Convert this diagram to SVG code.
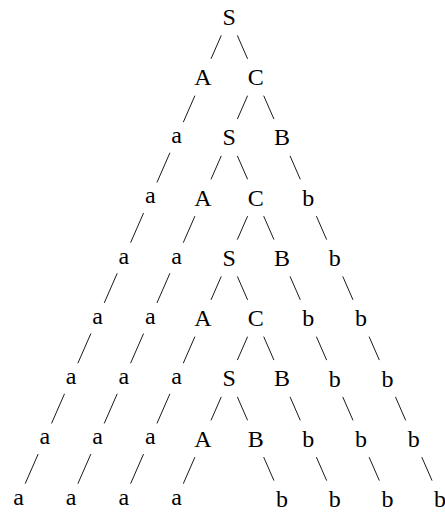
<svg xmlns="http://www.w3.org/2000/svg" width="445" height="516" viewBox="0 0 445 516">
<style>
text{font-family:"Liberation Serif","Times New Roman",serif;font-size:24px;fill:#000;text-anchor:middle}
.e line{stroke:#000;stroke-width:0.9;fill:none}
</style>
<rect width="445" height="516" fill="#fff"/>
<g id="connectors" class="e">
<line x1="221.25" y1="35.4" x2="211" y2="58.85"/>
<line x1="237.35" y1="35.4" x2="247.6" y2="58.85"/>
<line x1="194.9" y1="95.65" x2="183.29" y2="122.2"/>
<line x1="247.6" y1="95.65" x2="237.35" y2="119.1"/>
<line x1="263.7" y1="95.65" x2="273.95" y2="119.1"/>
<line x1="169.91" y1="152.8" x2="156.94" y2="182.45"/>
<line x1="221.25" y1="155.9" x2="211" y2="179.35"/>
<line x1="237.35" y1="155.9" x2="247.6" y2="179.35"/>
<line x1="290.05" y1="155.9" x2="300.3" y2="179.35"/>
<line x1="143.56" y1="213.05" x2="130.59" y2="242.7"/>
<line x1="194.9" y1="216.15" x2="183.29" y2="242.7"/>
<line x1="247.6" y1="216.15" x2="237.35" y2="239.6"/>
<line x1="263.7" y1="216.15" x2="273.95" y2="239.6"/>
<line x1="316.4" y1="216.15" x2="326.65" y2="239.6"/>
<line x1="117.21" y1="273.3" x2="104.24" y2="302.95"/>
<line x1="169.91" y1="273.3" x2="156.94" y2="302.95"/>
<line x1="221.25" y1="276.4" x2="211" y2="299.85"/>
<line x1="237.35" y1="276.4" x2="247.6" y2="299.85"/>
<line x1="290.05" y1="276.4" x2="300.3" y2="299.85"/>
<line x1="342.75" y1="276.4" x2="353" y2="299.85"/>
<line x1="90.86" y1="333.55" x2="77.89" y2="363.2"/>
<line x1="143.56" y1="333.55" x2="130.59" y2="363.2"/>
<line x1="194.9" y1="336.65" x2="183.29" y2="363.2"/>
<line x1="247.6" y1="336.65" x2="237.35" y2="360.1"/>
<line x1="263.7" y1="336.65" x2="273.95" y2="360.1"/>
<line x1="316.4" y1="336.65" x2="326.65" y2="360.1"/>
<line x1="369.1" y1="336.65" x2="379.35" y2="360.1"/>
<line x1="64.51" y1="393.8" x2="51.54" y2="423.45"/>
<line x1="117.21" y1="393.8" x2="104.24" y2="423.45"/>
<line x1="169.91" y1="393.8" x2="156.94" y2="423.45"/>
<line x1="221.25" y1="396.9" x2="211" y2="420.35"/>
<line x1="237.35" y1="396.9" x2="247.6" y2="420.35"/>
<line x1="290.05" y1="396.9" x2="300.3" y2="420.35"/>
<line x1="342.75" y1="396.9" x2="353" y2="420.35"/>
<line x1="395.45" y1="396.9" x2="405.7" y2="420.35"/>
<line x1="38.16" y1="454.05" x2="25.19" y2="483.7"/>
<line x1="90.86" y1="454.05" x2="77.89" y2="483.7"/>
<line x1="143.56" y1="454.05" x2="130.59" y2="483.7"/>
<line x1="194.9" y1="457.15" x2="183.29" y2="483.7"/>
<line x1="263.7" y1="457.15" x2="273.95" y2="480.6"/>
<line x1="316.4" y1="457.15" x2="326.65" y2="480.6"/>
<line x1="369.1" y1="457.15" x2="379.35" y2="480.6"/>
<line x1="421.8" y1="457.15" x2="432.05" y2="480.6"/>
</g>
<g id="n0-8"><text x="229.3" y="24.85">S</text></g>
<g id="n1-7"><text x="202.95" y="85.1">A</text></g>
<g id="n1-9"><text x="255.65" y="85.1">C</text></g>
<g id="n2-6"><text x="176.6" y="143">a</text></g>
<g id="n2-8"><text x="229.3" y="145.35">S</text></g>
<g id="n2-10"><text x="282" y="145.35">B</text></g>
<g id="n3-5"><text x="150.25" y="203.25">a</text></g>
<g id="n3-7"><text x="202.95" y="205.6">A</text></g>
<g id="n3-9"><text x="255.65" y="205.6">C</text></g>
<g id="n3-11"><text x="308.35" y="205.95">b</text></g>
<g id="n4-4"><text x="123.9" y="263.5">a</text></g>
<g id="n4-6"><text x="176.6" y="263.5">a</text></g>
<g id="n4-8"><text x="229.3" y="265.85">S</text></g>
<g id="n4-10"><text x="282" y="265.85">B</text></g>
<g id="n4-12"><text x="334.7" y="266.2">b</text></g>
<g id="n5-3"><text x="97.55" y="323.75">a</text></g>
<g id="n5-5"><text x="150.25" y="323.75">a</text></g>
<g id="n5-7"><text x="202.95" y="326.1">A</text></g>
<g id="n5-9"><text x="255.65" y="326.1">C</text></g>
<g id="n5-11"><text x="308.35" y="326.45">b</text></g>
<g id="n5-13"><text x="361.05" y="326.45">b</text></g>
<g id="n6-2"><text x="71.2" y="384">a</text></g>
<g id="n6-4"><text x="123.9" y="384">a</text></g>
<g id="n6-6"><text x="176.6" y="384">a</text></g>
<g id="n6-8"><text x="229.3" y="386.35">S</text></g>
<g id="n6-10"><text x="282" y="386.35">B</text></g>
<g id="n6-12"><text x="334.7" y="386.7">b</text></g>
<g id="n6-14"><text x="387.4" y="386.7">b</text></g>
<g id="n7-1"><text x="44.85" y="444.25">a</text></g>
<g id="n7-3"><text x="97.55" y="444.25">a</text></g>
<g id="n7-5"><text x="150.25" y="444.25">a</text></g>
<g id="n7-7"><text x="202.95" y="446.6">A</text></g>
<g id="n7-9"><text x="255.65" y="446.6">B</text></g>
<g id="n7-11"><text x="308.35" y="446.95">b</text></g>
<g id="n7-13"><text x="361.05" y="446.95">b</text></g>
<g id="n7-15"><text x="413.75" y="446.95">b</text></g>
<g id="n8-0"><text x="18.5" y="504.5">a</text></g>
<g id="n8-2"><text x="71.2" y="504.5">a</text></g>
<g id="n8-4"><text x="123.9" y="504.5">a</text></g>
<g id="n8-6"><text x="176.6" y="504.5">a</text></g>
<g id="n8-10"><text x="282" y="507.2">b</text></g>
<g id="n8-12"><text x="334.7" y="507.2">b</text></g>
<g id="n8-14"><text x="387.4" y="507.2">b</text></g>
<g id="n8-16"><text x="440.1" y="507.2">b</text></g>
</svg>
